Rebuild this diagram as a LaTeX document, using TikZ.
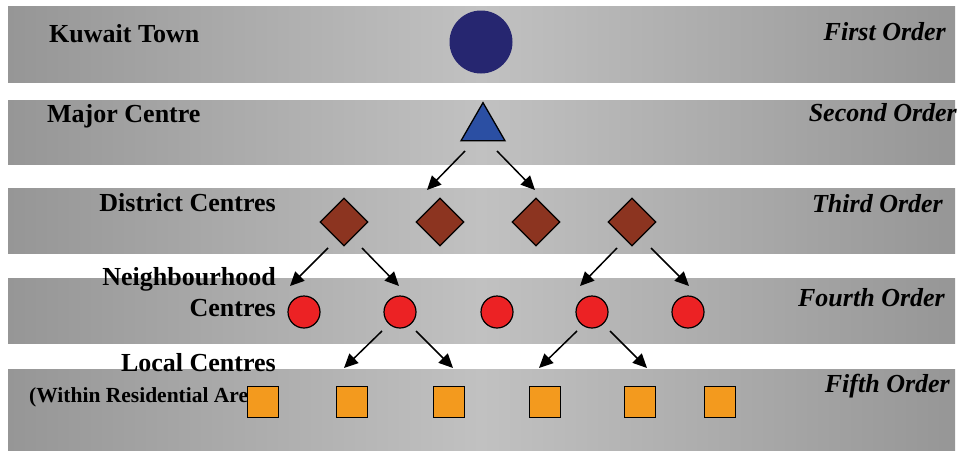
\documentclass[tikz,border=0pt]{standalone}
\usepackage{fontspec}
\setmainfont{Liberation Serif}
\usetikzlibrary{shapes.geometric,arrows.meta}
\definecolor{bandedge}{RGB}{150,150,150}
\definecolor{bandmid}{RGB}{193,193,193}
\definecolor{navy}{RGB}{38,38,112}
\definecolor{triblue}{RGB}{43,79,163}
\definecolor{rust}{RGB}{140,52,32}
\definecolor{redc}{RGB}{236,34,36}
\definecolor{orangesq}{RGB}{243,154,30}
\tikzset{
  band/.style={left color=bandedge, right color=bandedge, middle color=bandmid, draw=none},
  lbl/.style={inner sep=0pt, font=\fontsize{26}{30}\selectfont\bfseries},
  ord/.style={inner sep=0pt, anchor=base east, font=\fontsize{26}{30}\selectfont\bfseries\itshape},
  town/.style={circle, fill=navy, minimum size=63pt, inner sep=0pt},
  major/.style={isosceles triangle, isosceles triangle apex angle=60, shape border rotate=90,
    fill=triblue, draw=black, line width=1.3pt, minimum height=38pt, minimum width=40pt, inner sep=0pt},
  district/.style={diamond, aspect=1, fill=rust, draw=black, line width=1.2pt, minimum size=48pt, inner sep=0pt},
  neigh/.style={circle, fill=redc, draw=black, line width=1.2pt, minimum size=32pt, inner sep=0pt},
  local/.style={rectangle, fill=orangesq, draw=black, line width=1.3pt, minimum size=31pt, inner sep=0pt},
  arr/.style={-{Triangle[length=14pt,width=13pt]}, line width=1.5pt}
}
\begin{document}
\begin{tikzpicture}[x=1pt,y=-1pt]
\useasboundingbox (0,0) rectangle (958,450);
% five horizontal bands, one for each order
\path[band] (8,6) rectangle (955,82);
\path[band] (8,100) rectangle (955,164);
\path[band] (8,188) rectangle (955,253);
\path[band] (8,278) rectangle (955,343);
\path[band] (8,369) rectangle (955,450);

% left-hand labels
\node[lbl, anchor=base west] (lt1) at (49,42) {Kuwait Town};
\node[lbl, anchor=base west] (lt2) at (47,122) {Major Centre};
\node[lbl, anchor=base east] (lt3) at (276,211) {District Centres};
\node[lbl, anchor=base east] (lt4a) at (276,285) {Neighbourhood};
\node[lbl, anchor=base east] (lt4b) at (276,316) {Centres};
\node[lbl, anchor=base east] (lt5a) at (276,371) {Local Centres};
\node[inner sep=0pt, anchor=base west, font=\fontsize{21.5}{25}\selectfont\bfseries] (lt5b) at (29,402) {(Within Residential Areas)};

% right-hand order labels
\node[ord] (o1) at (946,40) {First Order};
\node[ord] (o2) at (957,121) {Second Order};
\node[ord] (o3) at (943,212) {Third Order};
\node[ord] (o4) at (945,306) {Fourth Order};
\node[ord] (o5) at (950,392) {Fifth Order};

% centres
\node[town] (kt) at (481,42) {};
\node[major] (mc) at (483,128) {};
\node[district] (d1) at (344,222) {};
\node[district] (d2) at (440,222) {};
\node[district] (d3) at (536,222) {};
\node[district] (d4) at (632,222) {};
\node[neigh] (n1) at (304,312) {};
\node[neigh] (n2) at (400,312) {};
\node[neigh] (n3) at (497,312) {};
\node[neigh] (n4) at (592,312) {};
\node[neigh] (n5) at (688,312) {};
\node[local] (l1) at (263,402) {};
\node[local] (l2) at (352,402) {};
\node[local] (l3) at (449,402) {};
\node[local] (l4) at (545,402) {};
\node[local] (l5) at (640,402) {};
\node[local] (l6) at (720,402) {};

% arrow end points
\coordinate (ma) at (465,151); \coordinate (mat) at (427,190);
\coordinate (mb) at (497,151); \coordinate (mbt) at (535,190);
\coordinate (da) at (328,248); \coordinate (dat) at (290,286);
\coordinate (db) at (362,248); \coordinate (dbt) at (399,286);
\coordinate (dc) at (617,248); \coordinate (dct) at (580,286);
\coordinate (dd) at (651,248); \coordinate (ddt) at (689,286);
\coordinate (na) at (382,331); \coordinate (nat) at (344,368);
\coordinate (nb) at (416,331); \coordinate (nbt) at (453,368);
\coordinate (nc) at (577,331); \coordinate (nct) at (539,368);
\coordinate (nd) at (610,331); \coordinate (ndt) at (647,368);

\draw[arr] (ma) -- (mat);
\draw[arr] (mb) -- (mbt);
\draw[arr] (da) -- (dat);
\draw[arr] (db) -- (dbt);
\draw[arr] (dc) -- (dct);
\draw[arr] (dd) -- (ddt);
\draw[arr] (na) -- (nat);
\draw[arr] (nb) -- (nbt);
\draw[arr] (nc) -- (nct);
\draw[arr] (nd) -- (ndt);
\end{tikzpicture}
\end{document}
